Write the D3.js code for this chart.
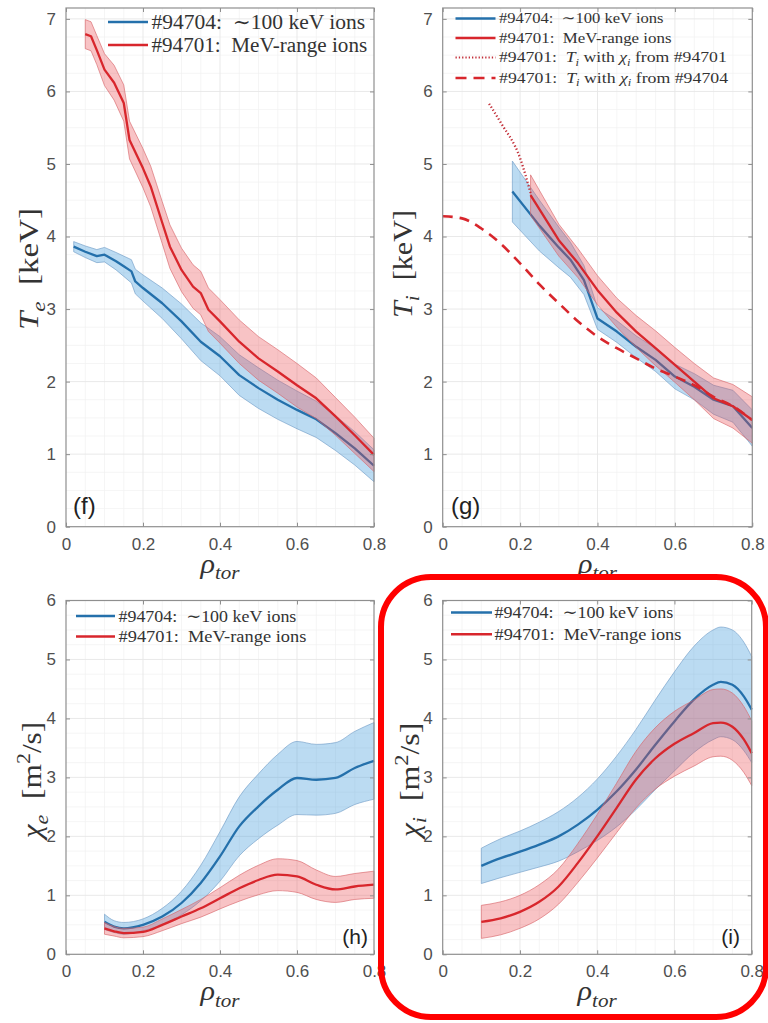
<!DOCTYPE html>
<html>
<head>
<meta charset="utf-8">
<script src="https://cdn.jsdelivr.net/npm/d3@7"></script>
<style>
  body { margin: 0; background: #fff; }
  svg { display: block; }
  text { white-space: pre; }
</style>
</head>
<body>
<svg id="fig" width="768" height="1023"></svg>
<script>
// ---------- tick values ----------
const rhoTicks = [0, 0.2, 0.4, 0.6, 0.8];
const tempTicks = [0, 1, 2, 3, 4, 5, 6, 7];
const chiTicks = [0, 1, 2, 3, 4, 5, 6];

// ---------- series names ----------
const nameLow = "#94704:  \u223C100 keV ions";
const nameMeV = "#94701:  MeV-range ions";

// ---------- (f) electron temperature [keV] ----------
const rhoTeLow = [0.02, 0.05, 0.08, 0.10, 0.13, 0.15, 0.17, 0.18, 0.20, 0.25, 0.30, 0.35, 0.40, 0.45, 0.50, 0.55, 0.60, 0.65, 0.70, 0.75, 0.80];
const teLow    = [3.86, 3.79, 3.73, 3.75, 3.66, 3.59, 3.52, 3.38, 3.29, 3.08, 2.83, 2.55, 2.35, 2.09, 1.91, 1.75, 1.61, 1.48, 1.29, 1.08, 0.84];
const teLowErr = [0.07, 0.08, 0.09, 0.10, 0.12, 0.14, 0.16, 0.17, 0.18, 0.21, 0.24, 0.26, 0.27, 0.28, 0.28, 0.27, 0.26, 0.25, 0.24, 0.23, 0.22];

const rhoTeMeV = [0.05, 0.065, 0.08, 0.10, 0.125, 0.15, 0.165, 0.20, 0.22, 0.25, 0.27, 0.30, 0.33, 0.35, 0.37, 0.40, 0.45, 0.50, 0.55, 0.60, 0.65, 0.70, 0.75, 0.80];
const teMeV    = [6.79, 6.76, 6.57, 6.30, 6.12, 5.84, 5.33, 4.94, 4.69, 4.19, 3.86, 3.54, 3.31, 3.22, 2.99, 2.83, 2.55, 2.32, 2.14, 1.95, 1.77, 1.52, 1.26, 0.99];
const teMeVErr = [0.20, 0.20, 0.20, 0.22, 0.24, 0.25, 0.26, 0.27, 0.28, 0.29, 0.30, 0.30, 0.30, 0.30, 0.30, 0.30, 0.30, 0.30, 0.30, 0.30, 0.28, 0.26, 0.25, 0.23];

// ---------- (g) ion temperature [keV] ----------
const rhoTiLow = [0.18, 0.25, 0.30, 0.33, 0.365, 0.40, 0.45, 0.50, 0.55, 0.60, 0.65, 0.70, 0.75, 0.80];
const tiLow    = [4.62, 4.15, 3.85, 3.68, 3.40, 2.87, 2.69, 2.48, 2.30, 2.07, 1.93, 1.75, 1.66, 1.36];
const tiLowErr = [0.42, 0.35, 0.28, 0.24, 0.20, 0.15, 0.15, 0.15, 0.16, 0.17, 0.18, 0.20, 0.22, 0.25];

const rhoTiMeV = [0.227, 0.30, 0.35, 0.40, 0.45, 0.50, 0.55, 0.60, 0.65, 0.70, 0.75, 0.80];
const tiMeV    = [4.57, 3.95, 3.63, 3.26, 2.95, 2.69, 2.46, 2.23, 2.00, 1.77, 1.66, 1.47];
const tiMeVErr = [0.28, 0.22, 0.20, 0.20, 0.20, 0.22, 0.24, 0.24, 0.25, 0.28, 0.30, 0.32];

// Ti of #94701 modelled with chi_i of #94701
const rhoTiOwn = [0.12, 0.15, 0.20, 0.227];
const tiOwn    = [5.83, 5.57, 5.08, 4.60];
// Ti of #94701 modelled with chi_i of #94704
const rhoTiCross = [0, 0.05, 0.10, 0.15, 0.20, 0.25, 0.30, 0.35, 0.40, 0.45, 0.50, 0.55, 0.60, 0.65, 0.70, 0.75, 0.80];
const tiCross    = [4.28, 4.25, 4.11, 3.90, 3.63, 3.34, 3.08, 2.83, 2.62, 2.46, 2.32, 2.18, 2.07, 1.95, 1.79, 1.66, 1.47];

// ---------- (h) electron heat diffusivity [m^2/s] ----------
const rhoChiE     = [0.10, 0.125, 0.15, 0.20, 0.25, 0.30, 0.35, 0.40, 0.45, 0.50, 0.55, 0.60, 0.65, 0.70, 0.75, 0.80];
const chiELow     = [0.55, 0.47, 0.44, 0.50, 0.64, 0.87, 1.21, 1.66, 2.17, 2.51, 2.79, 2.99, 2.96, 2.99, 3.16, 3.28];
const chiELowErr  = [0.13, 0.10, 0.10, 0.10, 0.14, 0.20, 0.30, 0.42, 0.50, 0.55, 0.60, 0.62, 0.60, 0.60, 0.62, 0.65];
const chiEMeV     = [0.44, 0.39, 0.36, 0.38, 0.50, 0.64, 0.78, 0.95, 1.12, 1.26, 1.35, 1.32, 1.18, 1.10, 1.15, 1.18];
const chiEMeVErr  = [0.10, 0.08, 0.08, 0.08, 0.10, 0.12, 0.15, 0.18, 0.22, 0.25, 0.27, 0.27, 0.25, 0.22, 0.22, 0.23];

// ---------- (i) ion heat diffusivity [m^2/s] ----------
const rhoChiI     = [0.10, 0.15, 0.20, 0.25, 0.30, 0.35, 0.40, 0.45, 0.50, 0.55, 0.60, 0.65, 0.70, 0.72, 0.75, 0.78, 0.80];
const chiILow     = [1.50, 1.63, 1.74, 1.86, 2.00, 2.20, 2.45, 2.76, 3.13, 3.55, 3.95, 4.32, 4.57, 4.62, 4.57, 4.37, 4.15];
const chiILowErr  = [0.30, 0.33, 0.35, 0.38, 0.42, 0.46, 0.52, 0.60, 0.68, 0.76, 0.84, 0.90, 0.93, 0.93, 0.93, 0.92, 0.90];
const chiIMeV     = [0.55, 0.61, 0.72, 0.89, 1.15, 1.55, 2.00, 2.48, 2.96, 3.32, 3.57, 3.75, 3.92, 3.93, 3.86, 3.64, 3.41];
const chiIMeVErr  = [0.28, 0.28, 0.28, 0.29, 0.30, 0.33, 0.37, 0.42, 0.48, 0.52, 0.55, 0.56, 0.57, 0.57, 0.57, 0.56, 0.55];

// ---------- styling ----------
const SERIF = "'Liberation Serif','DejaVu Serif',serif";
const SANS = "'Liberation Sans',Arial,'DejaVu Sans',sans-serif";
const AXIS = "#8f8f8f";
const TICKTEXT = "#4f4f4f";
const GRID = "#e6e6e6";
const GRID_MINOR = "#f0f0f0";
const BLUE = { line: "#2470ab", fill: "#4ba0dd", op: 0.38, edge: "#6f9cc6" };
const RED  = { line: "#d8262c", fill: "#ea4a50", op: 0.33, edge: "#d8646a" };
const RED_DOT = "#c3303a";

const svg = d3.select("#fig");

// tspans with italic / sub / superscript pieces
function rich(textSel, segs, fs) {
  let shift = 0;
  segs.forEach(s => {
    const small = s.sub || s.sup;
    const target = s.sub ? fs * 0.24 : s.sup ? -fs * 0.4 : 0;
    textSel.append("tspan")
      .attr("font-size", small ? fs * 0.7 : fs)
      .attr("font-style", s.it ? "italic" : "normal")
      .attr("dy", target - shift)
      .text(s.t);
    shift = target;
  });
  return textSel;
}

// stretch a text horizontally (in its own frame) to a given width around (ox, oy)
function fitWidth(textSel, w, ox, oy) {
  const bw = textSel.node().getBBox().width;
  if (bw > 0) {
    const s = w / bw;
    textSel.attr("transform", `translate(${ox},${oy}) scale(${s},1) translate(${-ox},${-oy})`);
  }
}

function panel(cfg) {
  const g = svg.append("g");
  const x = d3.scaleLinear().domain([0, 0.8]).range([cfg.left, cfg.right]);
  const y = d3.scaleLinear().domain([0, cfg.ymax]).range([cfg.bottom, cfg.top]);

  // minor grid
  const minorX = d3.range(0.05, 0.8, 0.05).filter(v => Math.abs(v / 0.2 - Math.round(v / 0.2)) > 1e-6);
  const minorY = d3.range(0.25, cfg.ymax, 0.25).filter(v => Math.abs(v - Math.round(v)) > 1e-6);
  g.append("g").selectAll("line").data(minorX).join("line")
    .attr("x1", d => x(d)).attr("x2", d => x(d)).attr("y1", cfg.bottom).attr("y2", cfg.top)
    .attr("stroke", GRID_MINOR).attr("stroke-width", 0.7);
  g.append("g").selectAll("line").data(minorY).join("line")
    .attr("y1", d => y(d)).attr("y2", d => y(d)).attr("x1", cfg.left).attr("x2", cfg.right)
    .attr("stroke", GRID_MINOR).attr("stroke-width", 0.7);
  // major grid
  g.append("g").selectAll("line").data(rhoTicks.slice(1, -1)).join("line")
    .attr("x1", d => x(d)).attr("x2", d => x(d)).attr("y1", cfg.bottom).attr("y2", cfg.top)
    .attr("stroke", GRID).attr("stroke-width", 0.9);
  g.append("g").selectAll("line").data(cfg.yTicks.filter(v => v > 0 && v < cfg.ymax)).join("line")
    .attr("y1", d => y(d)).attr("y2", d => y(d)).attr("x1", cfg.left).attr("x2", cfg.right)
    .attr("stroke", GRID).attr("stroke-width", 0.9);

  // bands and lines
  cfg.series.forEach(s => {
    const curve = s.curve || cfg.curve;
    const pts = s.rho.map((r, i) => ({ r, v: s.v[i], e: s.err ? s.err[i] : 0 }));
    if (s.err) {
      const area = d3.area().x(d => x(d.r)).y0(d => y(d.v - d.e)).y1(d => y(d.v + d.e)).curve(curve);
      g.append("path").attr("d", area(pts))
        .attr("fill", s.color.fill).attr("fill-opacity", s.color.op)
        .attr("stroke", s.color.edge).attr("stroke-width", 0.8).attr("stroke-opacity", 0.8);
    }
    const line = d3.line().x(d => x(d.r)).y(d => y(d.v)).curve(curve);
    g.append("path").attr("d", line(pts))
      .attr("fill", "none").attr("stroke", s.stroke)
      .attr("stroke-width", s.width || 2.3)
      .attr("stroke-dasharray", s.dash || null)
      .attr("stroke-linejoin", "round");
  });

  // box
  g.append("rect").attr("x", cfg.left).attr("y", cfg.top)
    .attr("width", cfg.right - cfg.left).attr("height", cfg.bottom - cfg.top)
    .attr("fill", "none").attr("stroke", AXIS).attr("stroke-width", 1.2);

  // axes with inward ticks on all four sides
  const fmt = d3.format("~g");
  const styleAxis = a => {
    a.select(".domain").remove();
    a.selectAll("line").attr("stroke", AXIS).attr("stroke-width", 1);
    a.selectAll("text").attr("font-family", SANS).attr("font-size", 17).attr("fill", TICKTEXT);
  };
  g.append("g").attr("transform", `translate(0,${cfg.bottom})`)
    .call(d3.axisBottom(x).tickValues(rhoTicks).tickSize(-4).tickPadding(11).tickFormat(fmt)).call(styleAxis);
  g.append("g").attr("transform", `translate(0,${cfg.top})`)
    .call(d3.axisTop(x).tickValues(rhoTicks).tickSize(-4).tickFormat(() => "")).call(styleAxis);
  g.append("g").attr("transform", `translate(${cfg.left},0)`)
    .call(d3.axisLeft(y).tickValues(cfg.yTicks).tickSize(-4).tickPadding(10).tickFormat(fmt)).call(styleAxis);
  g.append("g").attr("transform", `translate(${cfg.right},0)`)
    .call(d3.axisRight(y).tickValues(cfg.yTicks).tickSize(-4).tickFormat(() => "")).call(styleAxis);

  // x label: rho_tor
  const cx = (cfg.left + cfg.right) / 2;
  const xl = g.append("text").attr("x", cx).attr("y", cfg.bottom + 46)
    .attr("text-anchor", "middle").attr("font-family", SERIF).attr("fill", "#333");
  rich(xl, [{ t: "\u03C1", it: true }, { t: "tor", it: true, sub: true }], 27);
  fitWidth(xl, 41, cx, cfg.bottom + 46);

  // y label (rotated)
  const yl = g.append("g").attr("transform", `translate(${cfg.yLabelX},${cfg.yLabelY}) rotate(-90)`)
    .append("text").attr("x", 0).attr("y", 0).attr("text-anchor", "middle")
    .attr("font-family", SERIF).attr("fill", "#333");
  rich(yl, cfg.yLabel, 28);
  fitWidth(yl, cfg.yLabelW, 0, 0);

  // panel tag
  g.append("text").attr("x", cfg.tag.x).attr("y", cfg.tag.y)
    .attr("text-anchor", cfg.tag.anchor).attr("font-family", SANS)
    .attr("font-size", cfg.tag.size).attr("fill", "#222").text(cfg.tag.t);

  // legend
  const L = cfg.legend;
  L.rows.forEach((row, i) => {
    const ry = L.y[i];
    g.append("line").attr("x1", L.x0).attr("x2", L.x1).attr("y1", ry).attr("y2", ry)
      .attr("stroke", row.stroke).attr("stroke-width", row.width || 2.5)
      .attr("stroke-dasharray", row.dash || null);
    const t = g.append("text").attr("x", L.tx).attr("y", ry + L.fs * 0.33)
      .attr("font-family", SERIF).attr("fill", "#333");
    rich(t, row.segs, L.fs);
    fitWidth(t, row.w, L.tx, ry);
  });
}

const curveJag = d3.curveLinear;
const curveSmooth = d3.curveMonotoneX;

const rowLow = { stroke: BLUE.line, segs: [{ t: nameLow }] };
const rowMeV = { stroke: RED.line, segs: [{ t: nameMeV }] };

// (f) T_e
panel({
  left: 66, right: 374, top: 8, bottom: 526.7, ymax: 7.15, yTicks: tempTicks, curve: curveJag,
  series: [
    { rho: rhoTeLow, v: teLow, err: teLowErr, color: BLUE, stroke: BLUE.line },
    { rho: rhoTeMeV, v: teMeV, err: teMeVErr, color: RED, stroke: RED.line }
  ],
  yLabel: [{ t: "T", it: true }, { t: "e", it: true, sub: true }, { t: "  [keV]" }],
  yLabelX: 38, yLabelY: 269, yLabelW: 122,
  tag: { t: "(f)", x: 73, y: 514, anchor: "start", size: 24 },
  legend: { x0: 108, x1: 148, tx: 151.5, fs: 20, y: [22, 45],
    rows: [Object.assign({ w: 214 }, rowLow), Object.assign({ w: 216 }, rowMeV)] }
});

// (g) T_i
panel({
  left: 442.7, right: 752.3, top: 8, bottom: 526.7, ymax: 7.15, yTicks: tempTicks, curve: curveJag,
  series: [
    { rho: rhoTiLow, v: tiLow, err: tiLowErr, color: BLUE, stroke: BLUE.line },
    { rho: rhoTiMeV, v: tiMeV, err: tiMeVErr, color: RED, stroke: RED.line },
    { rho: rhoTiOwn, v: tiOwn, stroke: RED_DOT, width: 2.3, dash: "1.3,2.2", curve: curveSmooth },
    { rho: rhoTiCross, v: tiCross, stroke: RED.line, width: 2.6, dash: "10,7", curve: curveSmooth }
  ],
  yLabel: [{ t: "T", it: true }, { t: "i", it: true, sub: true }, { t: "  [keV]" }],
  yLabelX: 412, yLabelY: 264, yLabelW: 108,
  tag: { t: "(g)", x: 451, y: 514, anchor: "start", size: 24 },
  legend: { x0: 455.5, x1: 495.5, tx: 499, fs: 14.5, y: [18.5, 38, 57.5, 78],
    rows: [
      Object.assign({ w: 165 }, rowLow),
      Object.assign({ w: 173 }, rowMeV),
      { w: 228, stroke: RED_DOT, width: 2.2, dash: "1.3,2",
        segs: [{ t: "#94701:  " }, { t: "T", it: true }, { t: "i", it: true, sub: true }, { t: " with " },
               { t: "\u03C7", it: true }, { t: "i", it: true, sub: true }, { t: " from #94701" }] },
      { w: 230, stroke: RED.line, width: 2.6, dash: "11,7",
        segs: [{ t: "#94701:  " }, { t: "T", it: true }, { t: "i", it: true, sub: true }, { t: " with " },
               { t: "\u03C7", it: true }, { t: "i", it: true, sub: true }, { t: " from #94704" }] }
    ] }
});

// (h) chi_e
panel({
  left: 66, right: 374, top: 600.5, bottom: 954.3, ymax: 6, yTicks: chiTicks, curve: curveSmooth,
  series: [
    { rho: rhoChiE, v: chiELow, err: chiELowErr, color: BLUE, stroke: BLUE.line },
    { rho: rhoChiE, v: chiEMeV, err: chiEMeVErr, color: RED, stroke: RED.line }
  ],
  yLabel: [{ t: "\u03C7", it: true }, { t: "e", it: true, sub: true }, { t: "  [m" }, { t: "2", sup: true }, { t: "/s]" }],
  yLabelX: 41, yLabelY: 780, yLabelW: 120,
  tag: { t: "(h)", x: 368, y: 944, anchor: "end", size: 21 },
  legend: { x0: 76, x1: 115, tx: 118.5, fs: 17, y: [616, 636.5],
    rows: [Object.assign({ w: 178 }, rowLow), Object.assign({ w: 188 }, rowMeV)] }
});

// (i) chi_i
panel({
  left: 442.7, right: 751.7, top: 600.5, bottom: 954.3, ymax: 6, yTicks: chiTicks, curve: curveSmooth,
  series: [
    { rho: rhoChiI, v: chiILow, err: chiILowErr, color: BLUE, stroke: BLUE.line },
    { rho: rhoChiI, v: chiIMeV, err: chiIMeVErr, color: RED, stroke: RED.line }
  ],
  yLabel: [{ t: "\u03C7", it: true }, { t: "i", it: true, sub: true }, { t: "  [m" }, { t: "2", sup: true }, { t: "/s]" }],
  yLabelX: 419, yLabelY: 780, yLabelW: 118,
  tag: { t: "(i)", x: 740, y: 944, anchor: "end", size: 21 },
  legend: { x0: 451, x1: 492, tx: 494.5, fs: 17, y: [612.5, 634.3],
    rows: [Object.assign({ w: 179 }, rowLow), Object.assign({ w: 187 }, rowMeV)] }
});

// highlight frame around panel (i)
svg.append("rect")
  .attr("x", 381).attr("y", 577).attr("width", 385).attr("height", 440)
  .attr("rx", 50).attr("ry", 50)
  .attr("fill", "none").attr("stroke", "#ff0000").attr("stroke-width", 6);
</script>
</body>
</html>
